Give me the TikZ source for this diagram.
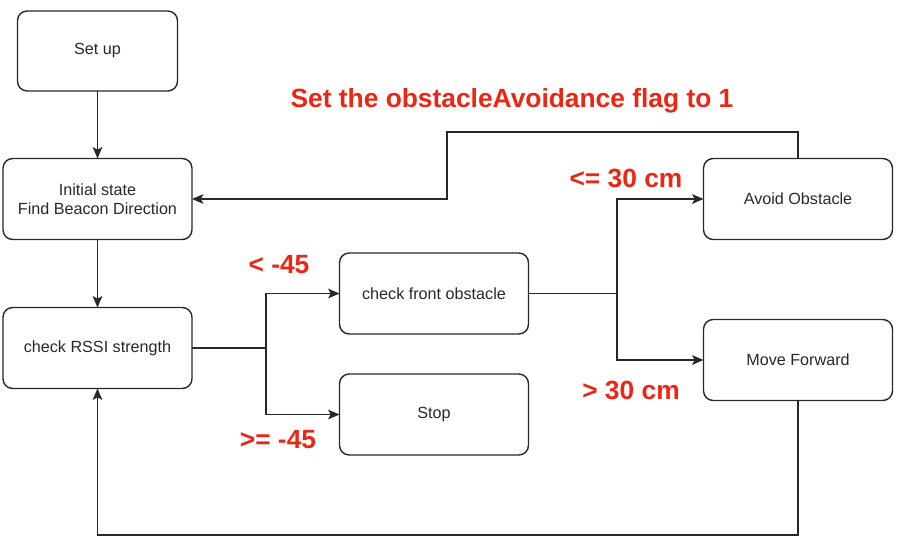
\documentclass[tikz,border=0pt]{standalone}
\usepackage{fontspec}
\setmainfont{Liberation Sans}
\usetikzlibrary{arrows.meta}
\definecolor{labelred}{RGB}{236,38,20}
\definecolor{linegray}{RGB}{40,40,40}
\begin{document}
\begin{tikzpicture}[x=0.02cm, y=-0.02cm, >={Stealth[length=6.5pt, width=5.5pt, inset=1.5pt]},
    state/.style={draw=linegray, rounded corners=5.5pt, thick, minimum width=3.78cm,
        minimum height=1.62cm, align=center, inner sep=0pt, outer sep=0pt,
        font=\fontsize{9.2}{11}\selectfont, text=linegray},
    cond/.style={font=\bfseries\fontsize{15}{17}\selectfont, text=labelred, inner sep=0pt},
    flow/.style={->, thick, draw=linegray}]
    \useasboundingbox (0,0) rectangle (911,557);

    % --- Etats ---
    \node[state, minimum width=3.2cm, minimum height=1.6cm] (setup) at (97.5,51) {Set up};
    \node[state] (init) at (97.5,199) {Initial state\\Find Beacon Direction};
    \node[state] (rssi) at (97.5,348) {check RSSI strength};
    \node[state] (front) at (434,293.5) {check front obstacle};
    \node[state] (stop) at (434,414.5) {Stop};
    \node[state] (avoid) at (798,199) {Avoid Obstacle};
    \node[state] (move) at (798,360) {Move Forward};

    % --- Points de branchement ---
    \coordinate (j1) at (266,348);
    \coordinate (j2) at (617,293.5);
    \coordinate (up) at (447,132);
    \coordinate (down) at (97.5,535);

    % --- Connecteurs ---
    \draw[flow] (setup) -- (init);
    \draw[flow] (init) -- (rssi);
    \draw[thick, draw=linegray] (rssi) -- (j1);
    \draw[flow] (j1) |- (front);
    \draw[flow] (j1) |- (stop);
    \draw[thick, draw=linegray] (front) -- (j2);
    \draw[flow] (j2) |- (avoid);
    \draw[flow] (j2) |- (move);
    \draw[flow] (avoid.north) |- (up) |- (init.east);
    \draw[flow] (move.south) |- (down) -- (rssi.south);

    % --- Conditions ---
    \node[cond] (flag) at (512,101) {Set the obstacleAvoidance flag to 1};
    \node[cond] (le30) at (626,178) {<= 30 cm};
    \node[cond] (gt30) at (631,390) {> 30 cm};
    \node[cond] (lt45) at (279,265) {< -45};
    \node[cond] (ge45) at (278,440) {>= -45};
\end{tikzpicture}
\end{document}
